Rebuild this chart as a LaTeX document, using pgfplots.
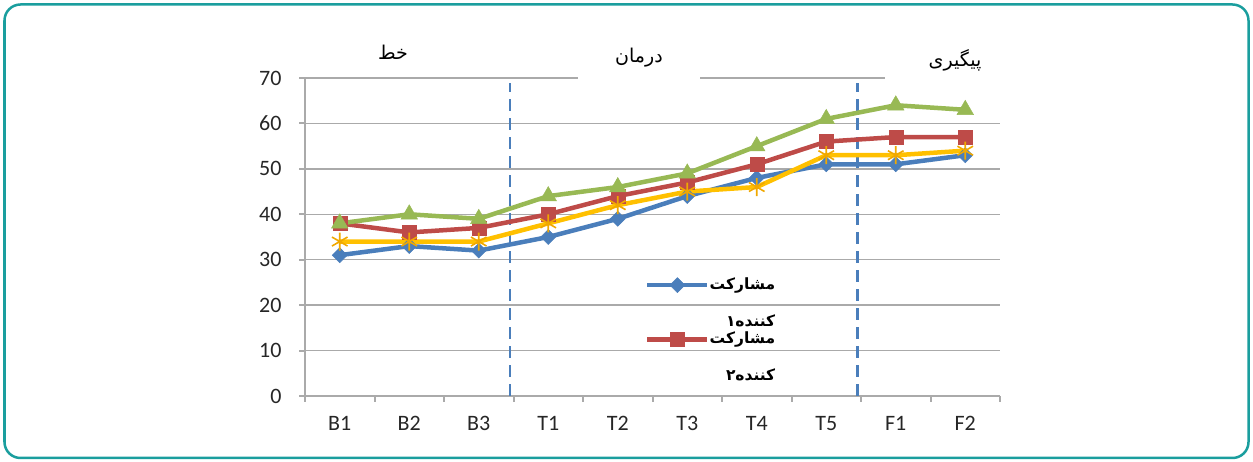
\documentclass[border=0pt]{standalone}
\usepackage{fontspec}
\setmainfont{Carlito}
\newfontfamily\arabicfont[Script=Arabic]{DejaVu Sans}
\TeXXeTstate=1
\usepackage{pgfplots}
\pgfplotsset{compat=1.18}
\definecolor{sblue}{RGB}{74,126,187}
\definecolor{sred}{RGB}{190,75,72}
\definecolor{sgreen}{RGB}{152,185,84}
\definecolor{syellow}{RGB}{255,192,0}
\definecolor{sstar}{RGB}{240,168,0}
\definecolor{gridgray}{RGB}{170,170,170}
\definecolor{framecol}{RGB}{26,158,158}
\newcommand\lgd[2]{\smash{\arabicfont\bfseries\fontsize{15.5bp}{37bp}\selectfont\begin{tabular}[t]{@{}r@{}}\beginR #1\endR\\\beginR #2\endR\end{tabular}}}
\begin{document}
\begin{tikzpicture}[x=1bp,y=1bp]
\path[use as bounding box] (0,0) rectangle (1253,462);
\draw[framecol, line width=2.5bp, rounded corners=16bp] (4.5,4) rectangle (1248.5,457.5);
\begin{axis}[
  at={(305bp,66bp)}, anchor=south west,
  scale only axis, width=695bp, height=318bp,
  xmin=-0.5, xmax=9.5, ymin=0, ymax=70,
  clip=false,
  axis lines*=left,
  axis line style={gridgray, line width=2bp},
  tick align=outside,
  major tick length=6bp,
  tick style={gridgray, line width=2bp},
  xtick={-0.5,0.5,1.5,2.5,3.5,4.5,5.5,6.5,7.5,8.5,9.5},
  xticklabels={},
  extra x ticks={0,1,2,3,4,5,6,7,8,9},
  extra x tick labels={B1,B2,B3,T1,T2,T3,T4,T5,F1,F2},
  extra x tick style={major tick length=0pt, grid=none},
  ytick={0,10,20,30,40,50,60,70},
  ymajorgrids,
  grid style={gridgray, line width=1.5bp},
  /pgf/number format/assume math mode=true,
  ticklabel style={font=\fontsize{22bp}{24bp}\selectfont, text=black!85},
  xticklabel style={yshift=-17bp},
  yticklabel style={xshift=-14bp},
  legend style={at={(axis cs:4.392,26.1)}, anchor=north west, draw=none, fill=none,
    inner sep=0pt, row sep=40bp, nodes={inner sep=0pt}},
  legend cell align=left,
  legend image code/.code={\draw[mark repeat=2,mark phase=2] plot coordinates {(0bp,5bp) (30bp,5bp) (60bp,5bp)};},
]
\addplot[forget plot, sblue, line width=2.5bp, dash pattern=on 12bp off 7bp] coordinates {(2.45,0) (2.45,68.9)};
\addplot[forget plot, sblue, line width=2.5bp, dash pattern=on 12bp off 7bp] coordinates {(7.45,0) (7.45,68.9)};
\addplot[sblue, line width=4.5bp, mark=square*, mark size=5.3bp, mark options={solid, rotate=45, line width=0.5bp, fill=sblue}]
  coordinates {(0,31) (1,33) (2,32) (3,35) (4,39) (5,44) (6,48) (7,51) (8,51) (9,53)};
\addlegendentry{\lgd{مشارکت}{کننده۱}}
\addplot[sred, line width=4.5bp, mark=square*, mark size=7bp, mark options={solid, line width=0.5bp, fill=sred}]
  coordinates {(0,38) (1,36) (2,37) (3,40) (4,44) (5,47) (6,51) (7,56) (8,57) (9,57)};
\addlegendentry{\lgd{مشارکت}{کننده۲}}
\addplot[sgreen, line width=4.5bp, mark=triangle*, mark size=9.5bp, mark options={solid, line width=0.5bp, fill=sgreen}]
  coordinates {(0,38) (1,40) (2,39) (3,44) (4,46) (5,49) (6,55) (7,61) (8,64) (9,63)};
\addplot[syellow, line width=4.5bp, mark=asterisk, mark size=9bp, mark options={solid, line width=1.6bp, draw=sstar}]
  coordinates {(0,34) (1,34) (2,34) (3,38) (4,42) (5,45) (6,46) (7,53) (8,53) (9,54)};
\end{axis}
\node[font=\arabicfont\fontsize{19bp}{22bp}\selectfont] at (393,410) {\beginR خط\endR};
\node[fill=white, minimum width=122bp, minimum height=44bp, font=\arabicfont\fontsize{19bp}{22bp}\selectfont] at (639,404) {\beginR درمان\endR};
\node[fill=white, minimum width=140bp, minimum height=44bp, font=\arabicfont\fontsize{19bp}{22bp}\selectfont] at (955,402) {\beginR پیگیری\endR};
\end{tikzpicture}
\end{document}
